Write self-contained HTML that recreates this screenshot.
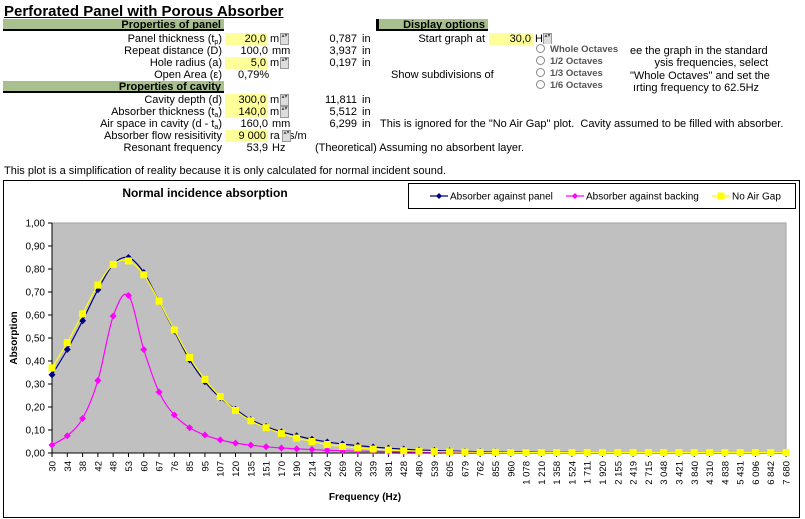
<!DOCTYPE html>
<html><head><meta charset="utf-8"><style>
body{margin:0;width:805px;height:519px;background:#fff;font-family:"Liberation Sans",Arial,sans-serif;font-size:11px;color:#000;position:relative;overflow:hidden}
.a{position:absolute;white-space:nowrap;line-height:12px}
.r{text-align:right}
.s{font-size:7px;position:relative;top:2px;line-height:0}
.hdr{position:absolute;background:#a8bf8e;font-weight:bold;text-align:right;height:12px;line-height:12px;padding-right:3px;box-sizing:border-box;border-bottom:2px solid #000}
.in{position:absolute;background:#ffff99;text-align:right;height:12px;line-height:12px;padding-right:2px;box-sizing:border-box}
.sp{position:absolute;width:7px;height:10px;background:#ddd;border:1px solid #999;font-size:6px;line-height:5px;text-align:center;color:#555}
.rad{position:absolute;font-size:9.5px;font-weight:bold;color:#555;line-height:12px;white-space:nowrap}
.rad:before{content:"";display:inline-block;width:7px;height:7px;border:1px solid #888;border-radius:50%;margin-right:5px;vertical-align:-1px;background:#fff}
</style></head><body>
<div class="a" style="left:4px;top:3px;font-size:15px;font-weight:bold;text-decoration:underline;line-height:17px">Perforated Panel with Porous Absorber</div>

<div class="hdr" style="left:3px;top:19px;width:221px">Properties of panel</div>
<div class="a r" style="right:583px;top:33px">Panel thickness (t<span class="s">p</span>)</div>
<div class="a r" style="right:583px;top:45px">Repeat distance (D)</div>
<div class="a r" style="right:583px;top:57px">Hole radius (a)</div>
<div class="a r" style="right:583px;top:69px">Open Area (ε)</div>
<div class="hdr" style="left:3px;top:81px;width:221px">Properties of cavity</div>
<div class="a r" style="right:583px;top:94px">Cavity depth (d)</div>
<div class="a r" style="right:583px;top:106px">Absorber thickness (t<span class="s">a</span>)</div>
<div class="a r" style="right:583px;top:118px">Air space in cavity (d - t<span class="s">a</span>)</div>
<div class="a r" style="right:583px;top:130px">Absorber flow resisitivity</div>
<div class="a r" style="right:583px;top:142px">Resonant frequency</div>

<div class="in" style="left:225px;top:33px;width:43px">20,0</div>
<div class="a" style="left:270px;top:33px">m</div><div class="sp" style="left:280px;top:33px">▴▾</div>
<div class="a r" style="left:225px;top:45px;width:43px">100,0</div>
<div class="a" style="left:272px;top:45px">mm</div>
<div class="in" style="left:225px;top:57px;width:43px">5,0</div>
<div class="a" style="left:270px;top:57px">m</div><div class="sp" style="left:280px;top:57px">▴▾</div>
<div class="a" style="left:238px;top:69px">0,79%</div>
<div class="in" style="left:225px;top:94px;width:43px">300,0</div>
<div class="a" style="left:270px;top:94px">m</div><div class="sp" style="left:280px;top:94px">▴▾</div>
<div class="in" style="left:225px;top:106px;width:43px">140,0</div>
<div class="a" style="left:270px;top:106px">m</div><div class="sp" style="left:280px;top:106px">▴▾</div>
<div class="a r" style="left:225px;top:118px;width:43px">160,0</div>
<div class="a" style="left:272px;top:118px">mm</div>
<div class="in" style="left:225px;top:130px;width:43px">9 000</div>
<div class="a" style="left:270px;top:130px">ra&nbsp;&nbsp;&nbsp;s/m</div><div class="sp" style="left:282px;top:130px">▴▾</div>
<div class="a r" style="left:225px;top:142px;width:43px">53,9</div>
<div class="a" style="left:272px;top:142px">Hz</div>

<div class="a r" style="left:310px;top:33px;width:47px">0,787</div>
<div class="a r" style="left:310px;top:45px;width:47px">3,937</div>
<div class="a r" style="left:310px;top:57px;width:47px">0,197</div>
<div class="a r" style="left:310px;top:94px;width:47px">11,811</div>
<div class="a r" style="left:310px;top:106px;width:47px">5,512</div>
<div class="a r" style="left:310px;top:118px;width:47px">6,299</div>
<div class="a" style="left:362px;top:33px">in</div>
<div class="a" style="left:362px;top:45px">in</div>
<div class="a" style="left:362px;top:57px">in</div>
<div class="a" style="left:362px;top:94px">in</div>
<div class="a" style="left:362px;top:106px">in</div>
<div class="a" style="left:362px;top:118px">in</div>
<div class="a" style="left:380px;top:118px">This is ignored for the "No Air Gap" plot.&nbsp; Cavity assumed to be filled with absorber.</div>
<div class="a" style="left:315px;top:142px">(Theoretical) Assuming no absorbent layer.</div>

<div class="hdr" style="left:376px;top:19px;width:112px;border-left:3px solid #000">Display options</div>
<div class="a r" style="right:320px;top:33px">Start graph at</div>
<div class="in" style="left:489px;top:33px;width:44px">30,0</div>
<div class="a" style="left:535px;top:33px">H</div><div class="sp" style="left:543px;top:33px">▴▾</div>
<div class="a" style="left:391px;top:69px">Show subdivisions of</div>
<div class="a" style="left:630px;top:45px;line-height:12.3px">ee the graph in the standard<br>&nbsp;&nbsp;&nbsp;&nbsp;&nbsp;&nbsp;&nbsp;&nbsp;ysis frequencies, select<br>"Whole Octaves" and set the<br>&nbsp;ırting frequency to 62.5Hz</div>
<div class="rad" style="left:536px;top:44px;background:#fff;padding-right:4px">Whole Octaves</div>
<div class="rad" style="left:536px;top:56px">1/2 Octaves</div>
<div class="rad" style="left:536px;top:68px">1/3 Octaves</div>
<div class="rad" style="left:536px;top:80px">1/6 Octaves</div>

<div class="a" style="left:4px;top:165px">This plot is a simplification of reality because it is only calculated for normal incident sound.</div>

<svg id="chart" width="805" height="519" style="position:absolute;left:0;top:0" font-family="Liberation Sans, Arial, sans-serif"></svg>
<script>
const categories=[30,34,38,42,48,53,60,67,76,85,95,107,120,135,151,170,190,214,240,269,302,339,381,428,480,539,605,679,762,855,960,1078,1210,1358,1524,1711,1920,2155,2419,2715,3048,3421,3840,4310,4838,5431,6096,6842,7680];
const againstPanel=[0.34,0.45,0.575,0.71,0.82,0.85,0.785,0.66,0.53,0.405,0.31,0.24,0.19,0.145,0.115,0.092,0.075,0.06,0.048,0.039,0.032,0.026,0.021,0.017,0.013,0.011,0.009,0.007,0.006,0.005,0.004,0.004,0.003,0.003,0.003,0.002,0.002,0.002,0.002,0.002,0.002,0.002,0.002,0.002,0.002,0.002,0.002,0.002,0.002];
const againstBacking=[0.035,0.075,0.15,0.315,0.595,0.685,0.45,0.265,0.165,0.11,0.078,0.057,0.043,0.034,0.027,0.022,0.018,0.015,0.012,0.01,0.008,0.007,0.006,0.005,0.004,0.004,0.003,0.003,0.003,0.002,0.002,0.002,0.002,0.002,0.002,0.002,0.002,0.002,0.002,0.002,0.002,0.002,0.002,0.002,0.002,0.002,0.002,0.002,0.002];
const noAirGap=[0.37,0.48,0.605,0.73,0.82,0.835,0.775,0.66,0.535,0.415,0.32,0.245,0.185,0.14,0.11,0.085,0.065,0.05,0.037,0.028,0.022,0.017,0.013,0.01,0.008,0.006,0.005,0.004,0.003,0.003,0.002,0.002,0.002,0.002,0.002,0.002,0.002,0.002,0.002,0.002,0.002,0.002,0.002,0.002,0.002,0.002,0.002,0.002,0.002];
const yTicks=[0,0.1,0.2,0.3,0.4,0.5,0.6,0.7,0.8,0.9,1.0];
const seriesNames=["Absorber against panel","Absorber against backing","No Air Gap"];

const svg=document.getElementById('chart');const NS='http://www.w3.org/2000/svg';
function mk(t,a,p){const e=document.createElementNS(NS,t);for(const k in a)e.setAttribute(k,a[k]);(p||svg).appendChild(e);return e;}
const X0=52,X1=786,Y0=453,Y1=223;
const xs=i=>X0+(X1-X0)*i/(categories.length-1);
const ys=v=>Y0-(Y0-Y1)*v;
const fmt=v=>v.toFixed(2).replace('.',',');
const fmtInt=n=>n>=1000?String(n).replace(/(\d)(\d{3})$/,'$1 $2'):String(n);

let e=mk('rect',{x:3.5,y:180.5,width:796,height:337,fill:'#fff',stroke:'#000'});

e=mk('text',{x:205,y:197,'text-anchor':'middle','font-size':12,'font-weight':'bold'});e.textContent='Normal incidence absorption';

e=mk('rect',{x:X0,y:Y1,width:X1-X0,height:Y0-Y1,fill:'#c0c0c0',stroke:'#a0a0a0'});

mk('line',{x1:X0,y1:Y1,x2:X0,y2:Y0,stroke:'#000'});
mk('line',{x1:X0,y1:Y0,x2:X1,y2:Y0,stroke:'#000'});
yTicks.forEach(v=>{const y=ys(v);mk('line',{x1:X0-4,y1:y,x2:X0,y2:y,stroke:'#000'});
 const t=mk('text',{x:X0-7,y:y+3.5,'text-anchor':'end','font-size':10});t.textContent=fmt(v);
 });
categories.forEach((c,i)=>{const x=xs(i);mk('line',{x1:x,y1:Y0,x2:x,y2:Y0+4,stroke:'#000'});
 const t=mk('text',{x:0,y:0,'text-anchor':'end','font-size':9.5,transform:`translate(${x+3.5},${Y0+8}) rotate(-90)`});t.textContent=fmtInt(c);
 });
e=mk('text',{x:0,y:0,'text-anchor':'middle','font-size':10,'font-weight':'bold',transform:`translate(17,338) rotate(-90)`});e.textContent='Absorption';

e=mk('text',{x:365,y:500,'text-anchor':'middle','font-size':10,'font-weight':'bold'});e.textContent='Frequency (Hz)';


function smooth(vals){const p=vals.map((v,i)=>[xs(i),ys(v)]);let d=`M${p[0][0]},${p[0][1]}`;
 for(let i=0;i<p.length-1;i++){const a=p[i-1]||p[i],b=p[i],c=p[i+1],n=p[i+2]||c;
  d+=` C${b[0]+(c[0]-a[0])/6},${b[1]+(c[1]-a[1])/6} ${c[0]-(n[0]-b[0])/6},${c[1]-(n[1]-b[1])/6} ${c[0]},${c[1]}`;}return d;}
function series(vals,color,marker,name){
 const g=mk('g',{});
 mk('path',{d:smooth(vals),fill:'none',stroke:color,'stroke-width':1.2},g);
 vals.forEach((v,i)=>{const x=xs(i),y=ys(v);let m;
  if(marker==='sq')m=mk('rect',{x:x-3.5,y:y-3.5,width:7,height:7,fill:color},g);
  else m=mk('path',{d:`M${x},${y-3.5}L${x+3.5},${y}L${x},${y+3.5}L${x-3.5},${y}Z`,fill:color},g);
  });}
series(againstBacking,'#ff00ff','d','series-against-backing');
series(againstPanel,'#000080','d','series-against-panel');
series(noAirGap,'#ffff00','sq','series-no-air-gap');
e=mk('rect',{x:408.5,y:183.5,width:387,height:25,fill:'#fff',stroke:'#000'});

const lg=[[430,'#000080','d'],[566,'#ff00ff','d'],[712,'#ffff00','sq']];
lg.forEach((l,i)=>{const [x,c,m]=l,y=196;const g=mk('g',{});
 
 mk('line',{x1:x,y1:y,x2:x+18,y2:y,stroke:c,'stroke-width':1.2},g);
 if(m==='sq')mk('rect',{x:x+5.5,y:y-3.5,width:7,height:7,fill:c},g);
 else mk('path',{d:`M${x+9},${y-3}L${x+12},${y}L${x+9},${y+3}L${x+6},${y}Z`,fill:c},g);
 const t=mk('text',{x:x+20,y:y+3.5,'font-size':10},g);t.textContent=seriesNames[i];});
</script>
</body></html>
